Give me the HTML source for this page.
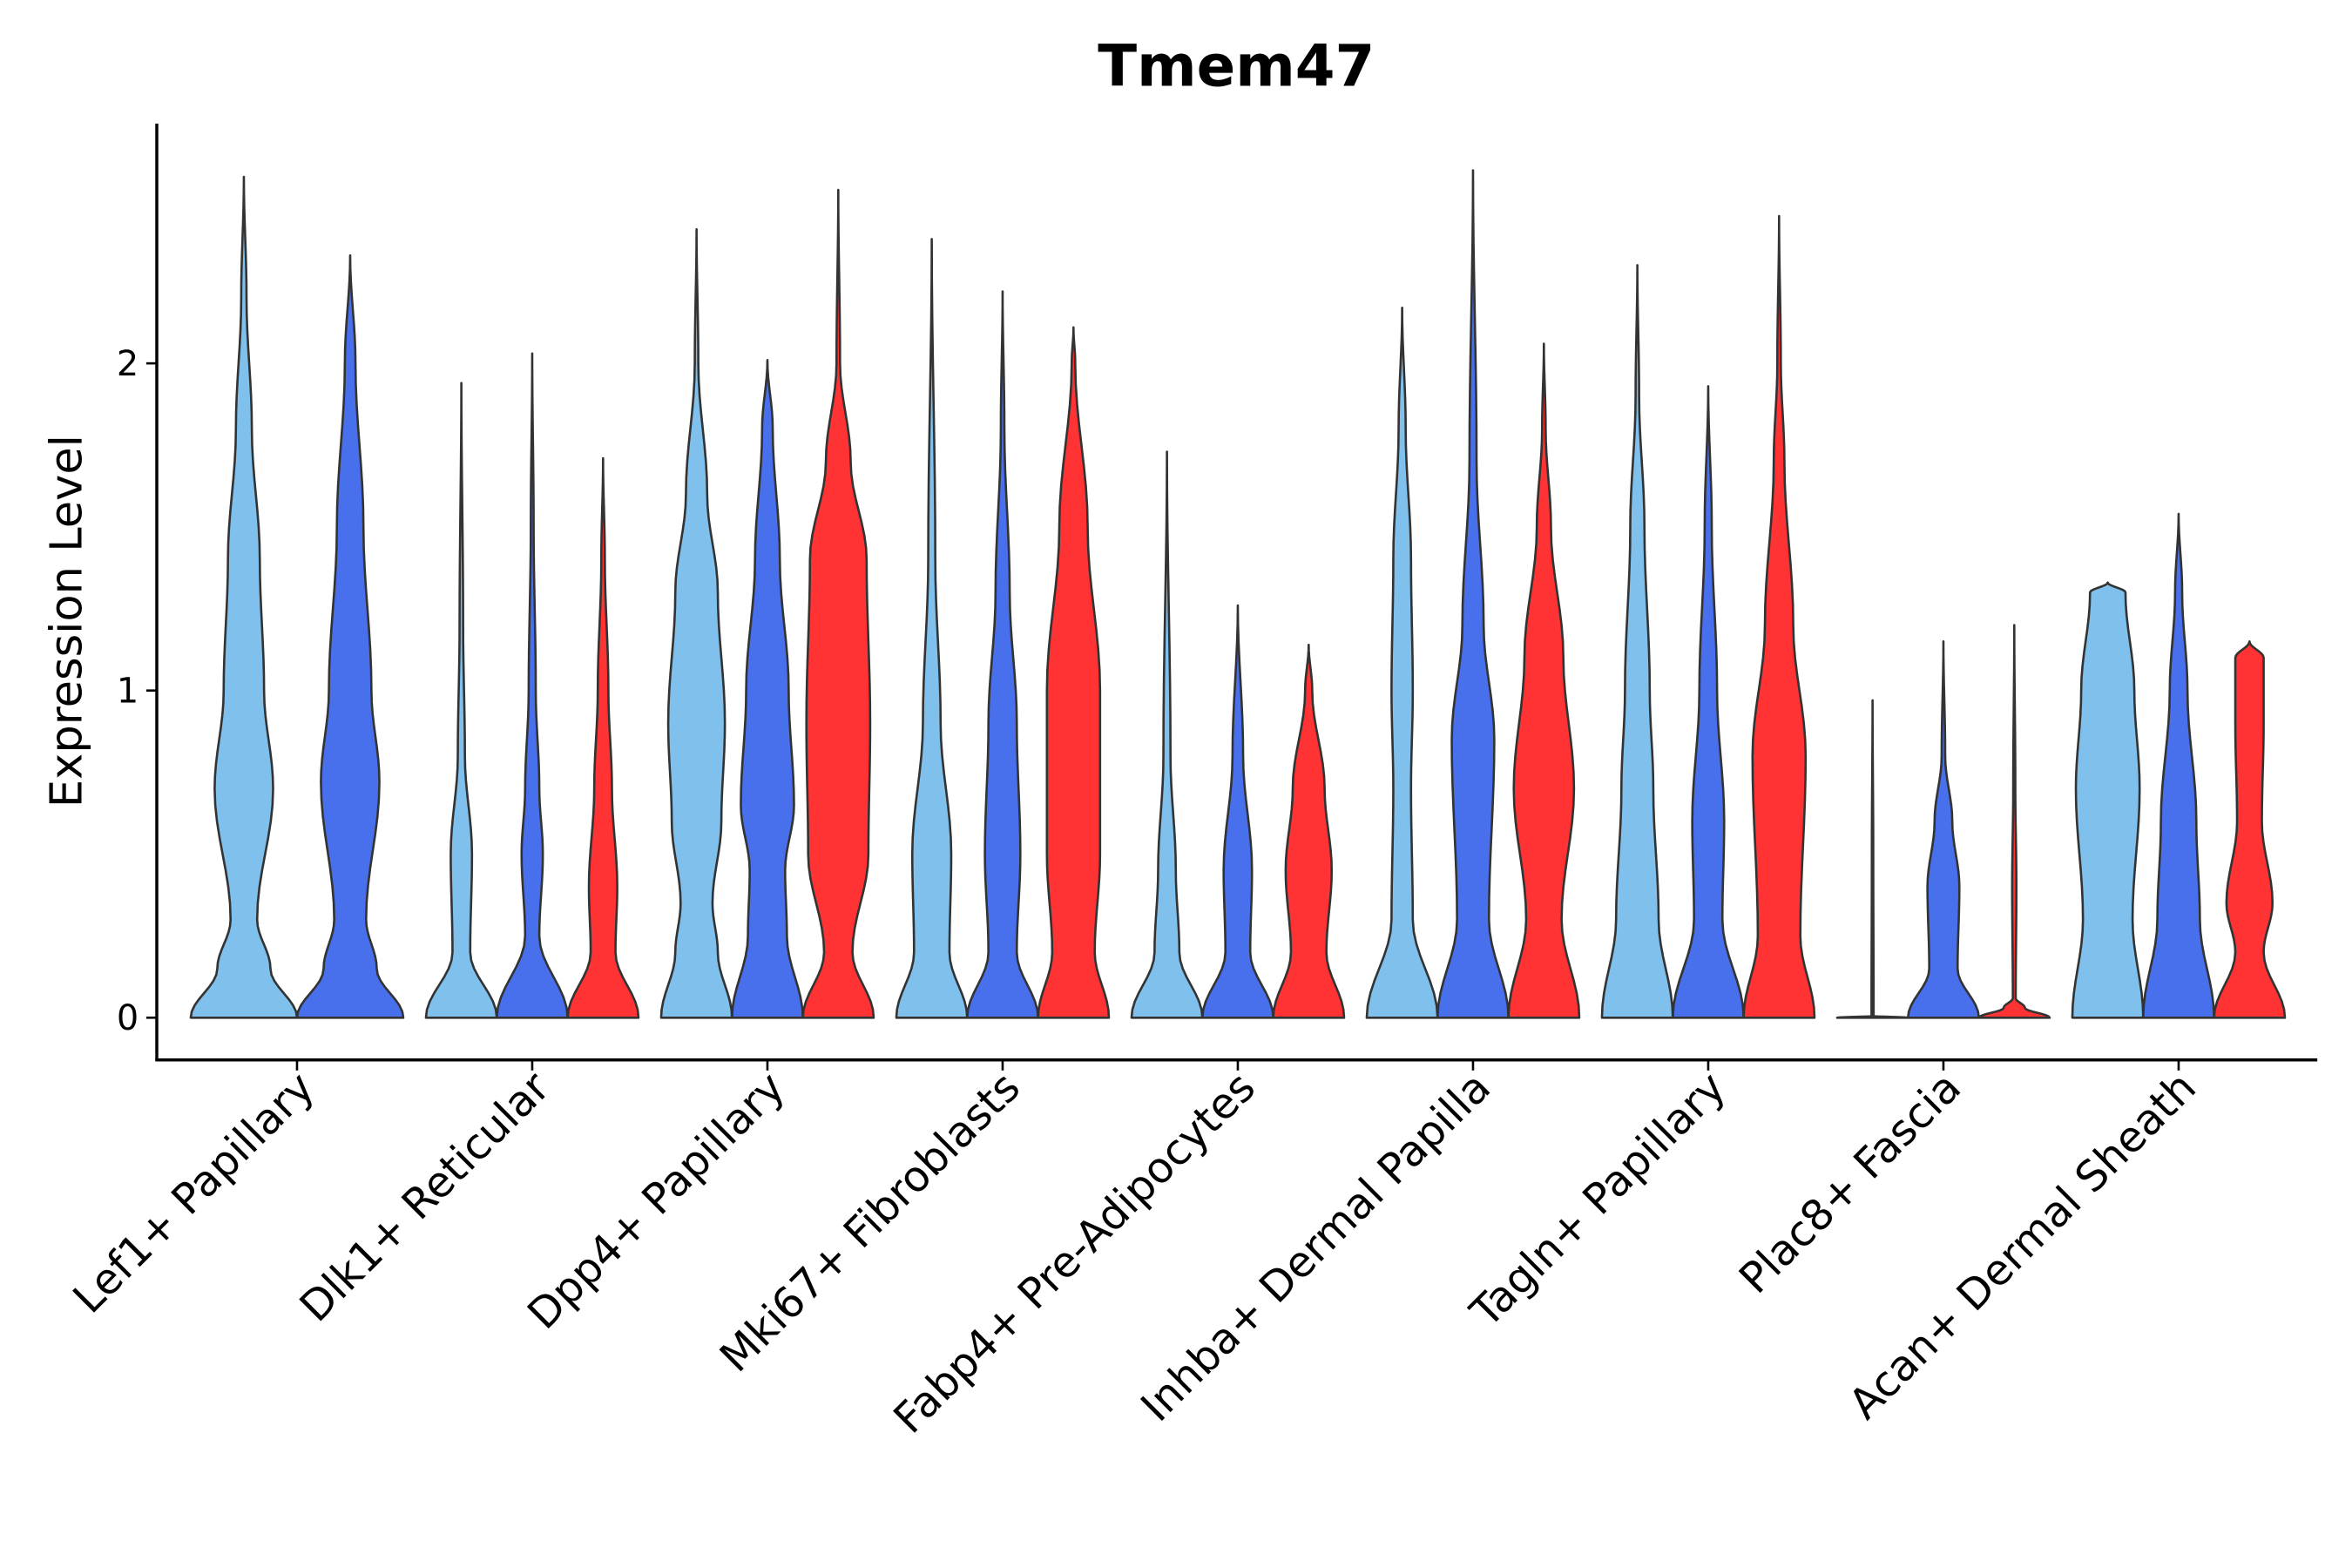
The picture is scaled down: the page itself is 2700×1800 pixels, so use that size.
<!DOCTYPE html>
<html><head><meta charset="utf-8"><style>
html,body{margin:0;padding:0;background:#fff;}
svg{display:block;}
text{font-family:"DejaVu Sans","Liberation Sans",sans-serif;fill:#000;}
</style></head><body>
<svg id="chart" width="2700" height="1800" viewBox="0 0 1560 1040" xmlns="http://www.w3.org/2000/svg">
<rect width="1560" height="1040" fill="#fff"/>
<text x="820" y="57" text-anchor="middle" font-size="38" font-weight="bold">Tmem47</text>
<text transform="translate(54,412) rotate(-90)" text-anchor="middle" font-size="29.5">Expression Level</text>
<g id="marks"></g>
<g id="axes"></g>
</svg>
<script>
const categories = ["Lef1+ Papillary","Dlk1+ Reticular","Dpp4+ Papillary","Mki67+ Fibroblasts","Fabp4+ Pre-Adipocytes","Inhba+ Dermal Papilla","Tagln+ Papillary","Plac8+ Fascia","Acan+ Dermal Sheath"];
const yTicks = [0,1,2];
const groupSeries = [["light","blue"],["light","blue","red"],["light","blue","red"],["light","blue","red"],["light","blue","red"],["light","blue","red"],["light","blue","red"],["light","blue","red"],["light","blue","red"]];
const maxValues = [[2.57,2.33],[1.94,2.03,1.71],[2.41,2.01,2.53],[2.38,2.22,2.11],[1.73,1.26,1.14],[2.17,2.59,2.06],[2.30,1.93,2.45],[0.97,1.15,1.20],[1.33,1.54,1.15]];
const profiles = [
 [[[0,1],[0.15,0.5],[0.3,0.25],[0.7,0.55],[1.0,0.38],[1.4,0.3],[1.8,0.15],[2.2,0.05]],
  [[0,1],[0.15,0.5],[0.3,0.3],[0.72,0.55],[1.0,0.4],[1.5,0.25],[2.0,0.1]]],
 [[[0,1],[0.2,0.25],[0.5,0.3],[0.8,0.1],[1.2,0.05]],
  [[0,1],[0.25,0.2],[0.5,0.3],[0.7,0.2],[1.0,0.1],[1.5,0.04]],
  [[0,1],[0.2,0.35],[0.4,0.4],[0.7,0.25],[1.0,0.15],[1.4,0.05]]],
 [[[0,1],[0.2,0.6],[0.35,0.45],[0.6,0.7],[0.9,0.8],[1.3,0.6],[1.6,0.3],[2.0,0.05]],
  [[0,1],[0.25,0.55],[0.45,0.5],[0.65,0.75],[1.0,0.6],[1.4,0.35],[1.8,0.15]],
  [[0,1],[0.2,0.4],[0.5,0.85],[0.9,0.9],[1.4,0.8],[1.7,0.35],[2.0,0.05]]],
 [[[0,1],[0.2,0.5],[0.5,0.55],[0.9,0.25],[1.4,0.1]],
  [[0,1],[0.2,0.4],[0.5,0.5],[0.9,0.4],[1.3,0.2],[1.8,0.05]],
  [[0,1],[0.2,0.6],[0.5,0.75],[1.0,0.75],[1.5,0.4],[2.0,0.05]]],
 [[[0,1],[0.2,0.35],[0.45,0.25],[0.8,0.1]],
  [[0,1],[0.2,0.35],[0.45,0.4],[0.8,0.15]],
  [[0,1],[0.2,0.5],[0.45,0.65],[0.7,0.45],[1.0,0.1]]],
 [[[0,1],[0.3,0.3],[0.7,0.25],[1.0,0.3],[1.4,0.25],[1.8,0.1]],
  [[0,1],[0.3,0.45],[0.85,0.6],[1.2,0.3],[1.7,0.1]],
  [[0,1],[0.3,0.5],[0.7,0.85],[1.1,0.55],[1.5,0.2],[1.8,0.05]]],
 [[[0,1],[0.3,0.6],[0.7,0.45],[1.0,0.35],[1.5,0.2],[1.9,0.05]],
  [[0,1],[0.3,0.4],[0.6,0.45],[1.0,0.25],[1.5,0.1]],
  [[0,1],[0.25,0.6],[0.8,0.75],[1.2,0.4],[1.7,0.15],[2.0,0.05]]],
 [[[0,1],[0.005,0.03],[0.5,0.02]],
  [[0,1],[0.15,0.4],[0.4,0.45],[0.6,0.25],[0.8,0.05]],
  [[0,1],[0.03,0.3],[0.06,0.04],[0.4,0.06],[0.7,0.03]]],
 [[[0,1],[0.3,0.7],[0.7,0.9],[1.0,0.75],[1.3,0.5]],
  [[0,1],[0.3,0.6],[0.6,0.5],[1.0,0.25],[1.3,0.1]],
  [[0,1],[0.2,0.4],[0.35,0.65],[0.6,0.35],[0.9,0.4],[1.1,0.4]]]
];
const colors = {light:"#7fc0ec", blue:"#4870ec", red:"#ff3333"};
const NS="http://www.w3.org/2000/svg";
const xLeft=104, xRight=1537, yBase=703, yTop=82;
function yScale(v){return 675 - v*217;}
function xCenter(i){return 197 + i*156;}
const groupW=141;
function mk(tag,attrs,parent){const e=document.createElementNS(NS,tag);for(const k in attrs)e.setAttribute(k,attrs[k]);parent.appendChild(e);return e;}
const marks=document.getElementById('marks');
const axes=document.getElementById('axes');
categories.forEach((cat,i)=>{
  const ser=groupSeries[i], n=ser.length, w=groupW/n;
  ser.forEach((s,j)=>{
    const cx=xCenter(i)-groupW/2+w*(j+0.5), hw=w/2;
    const pts=profiles[i][j].concat([[maxValues[i][j],0]]);
    const samp=[];
    for(let k=0;k<pts.length-1;k++){
      const [v0,a]=pts[k],[v1,b]=pts[k+1];
      for(let t=0;t<8;t++){const u=t/8;const f=(1-Math.cos(Math.PI*u))/2;samp.push([v0+(v1-v0)*u,a+(b-a)*f]);}
    }
    samp.push(pts[pts.length-1]);
    let d="M"+cx+","+yScale(0);
    samp.forEach(p=>{d+=" L"+(cx+p[1]*hw).toFixed(2)+","+yScale(p[0]).toFixed(2);});
    for(let k=samp.length-1;k>=0;k--){const p=samp[k];d+=" L"+(cx-p[1]*hw).toFixed(2)+","+yScale(p[0]).toFixed(2);}
    d+=" Z";
    const path=mk('path',{d:d,fill:colors[s],stroke:"#333",'stroke-width':1.5,'stroke-linejoin':'round'},marks);
    
    
  });
  const tk=mk('line',{x1:xCenter(i),x2:xCenter(i),y1:yBase,y2:yBase+7,stroke:"#000",'stroke-width':1.5},axes);
  
  
  const lb=mk('text',{transform:"translate("+(xCenter(i)+13)+","+(yBase+20)+") rotate(-45)",'text-anchor':'end','font-size':28},axes);
  lb.textContent=cat;
  
  
});
yTicks.forEach(v=>{
  const t=mk('line',{x1:xLeft-7,x2:xLeft,y1:yScale(v),y2:yScale(v),stroke:"#000",'stroke-width':1.5},axes);
  
  
  const l=mk('text',{x:xLeft-12,y:yScale(v)+8,'text-anchor':'end','font-size':23},axes);
  l.textContent=v;
  
  
});
const ya=mk('line',{x1:xLeft,x2:xLeft,y1:yTop,y2:yBase,stroke:"#000",'stroke-width':2},axes);


const xa=mk('line',{x1:xLeft-1,x2:xRight,y1:yBase,y2:yBase,stroke:"#000",'stroke-width':2},axes);


</script>
</body></html>
